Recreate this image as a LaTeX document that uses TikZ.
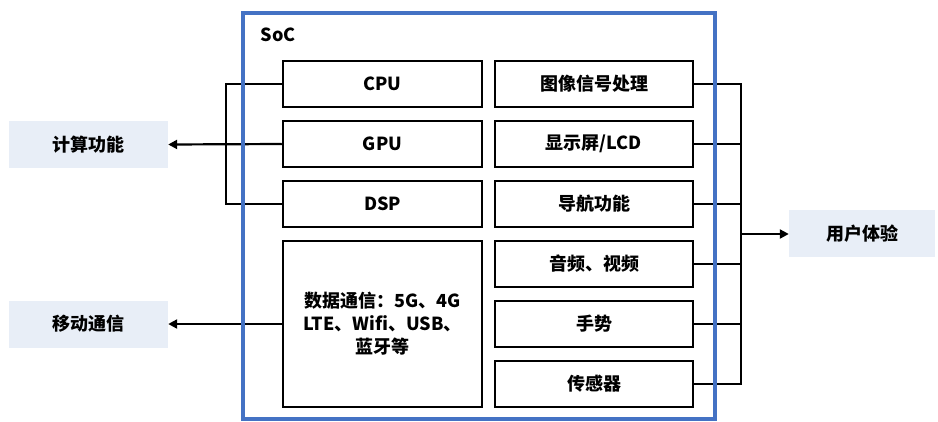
\documentclass[tikz,border=0pt]{standalone}
\usepackage{fontspec}
\setmainfont{Noto Sans CJK SC}
\usetikzlibrary{arrows.meta}
\definecolor{socblue}{HTML}{4472C4}
\definecolor{outfill}{HTML}{E8EEF7}
\tikzset{
  lbl/.style={font=\bfseries\fontsize{18}{23}\selectfont},
  blk/.style={draw=black, line width=2.5pt, minimum width=199pt, minimum height=46pt, inner sep=0pt, lbl},
  rblk/.style={blk, minimum width=198pt},
  outbox/.style={fill=outfill, draw=none, minimum width=159pt, minimum height=47pt, inner sep=0pt, lbl},
  conn/.style={draw=black, line width=2.2pt},
  arr/.style={conn, -{Triangle[length=9pt,width=9pt]}},
}
\begin{document}
\begin{tikzpicture}[x=1pt,y=-1pt]
\useasboundingbox (0,0) rectangle (938,421);
% left column
\node[blk] (cpu) at (382.5,84) {CPU};
\node[blk] (gpu) at (382.5,144) {GPU};
\node[blk] (dsp) at (382.5,204) {DSP};
\node[blk, minimum height=166pt, align=center] (data) at (382.5,324) {数据通信：5G、4G\\LTE、Wifi、USB、\\蓝牙等};
% right column
\node[rblk] (isp) at (594,84) {图像信号处理};
\node[rblk] (lcd) at (594,144) {显示屏/LCD};
\node[rblk] (nav) at (594,204) {导航功能};
\node[rblk] (av) at (594,264) {音频、视频};
\node[rblk] (ges) at (594,324) {手势};
\node[rblk] (sen) at (594,384) {传感器};
% outside boxes
\node[outbox] (calc) at (88.5,144.5) {计算功能};
\node[outbox] (mob) at (88.5,324) {移动通信};
\node[outbox, minimum width=146pt] (ux) at (862,233.5) {用户体验};
% left bus
\coordinate (lb1) at (226,84);
\coordinate (lb2) at (226,204);
\draw[conn] (cpu.west) -- (lb1) -- (lb2) -- (dsp.west);
\draw[arr] (gpu.west) -- (calc.east);
\draw[arr] (data.west) -- (mob.east);
% right bus
\coordinate (rb1) at (741,84);
\coordinate (rb2) at (741,384);
\coordinate (rbm) at (741,234);
\draw[conn] (isp.east) -- (rb1) -- (rb2) -- (sen.east);
\draw[conn] (lcd.east) -- (lcd.east -| rb1);
\draw[conn] (nav.east) -- (nav.east -| rb1);
\draw[conn] (av.east) -- (av.east -| rb1);
\draw[conn] (ges.east) -- (ges.east -| rb1);
\draw[arr] (rbm) -- (ux.west |- rbm);
% SoC frame
\draw[socblue, line width=4.5pt] (243,13) rectangle (715,419);
\node[lbl] (soc) at (278,35) {SoC};
\end{tikzpicture}
\end{document}
